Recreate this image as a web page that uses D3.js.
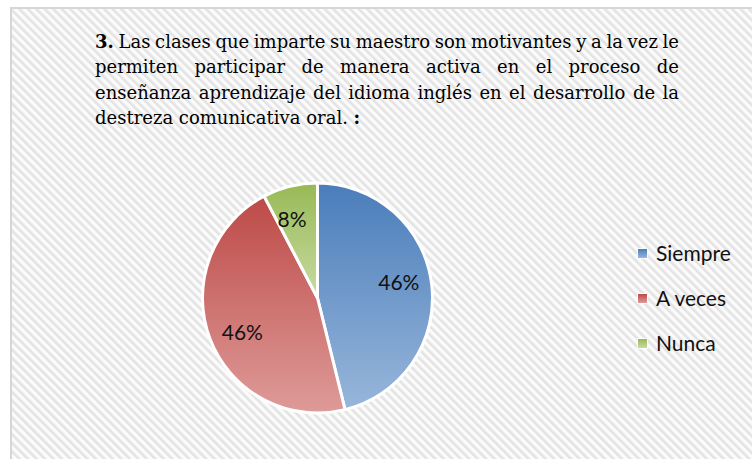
<!DOCTYPE html>
<html>
<head>
<meta charset="utf-8">
<script src="https://cdn.jsdelivr.net/npm/d3@7"></script>
<style>
  html, body { margin: 0; padding: 0; background: #ffffff; }
  svg { display: block; }
</style>
</head>
<body>
<svg id="chart" width="752" height="459"></svg>
<script>
// ---- data ----
const categories = ["Siempre", "A veces", "Nunca"];
const values = [6, 6, 1];
const titleLines = [
  "3. Las clases que imparte su maestro son motivantes y a la vez le",
  "permiten participar de manera activa en el proceso de",
  "enseñanza aprendizaje del idioma inglés en el desarrollo de la",
  "destreza comunicativa oral. :"
];
const boldWords = ["3.", ":"];

// ---- styles ----
const colors = [
  { top: "#4a7dbb", bottom: "#98b6da" },
  { top: "#bd4a47", bottom: "#de9b99" },
  { top: "#98b955", bottom: "#c8dba4" }
];

const svg = d3.select("#chart");
const W = 752, H = 459;

const defs = svg.append("defs");
const pat = defs.append("pattern")
  .attr("id", "stripes")
  .attr("patternUnits", "userSpaceOnUse")
  .attr("width", 6).attr("height", 6)
  .attr("patternTransform", "rotate(-45)");
pat.append("rect").attr("width", 6).attr("height", 6).attr("fill", "#fbfbfb");
pat.append("rect").attr("x", 0).attr("width", 2.6).attr("height", 6).attr("fill", "#e3e3e3");

colors.forEach((c, i) => {
  const g = defs.append("linearGradient")
    .attr("id", "grad" + i)
    .attr("x1", 0).attr("y1", 0).attr("x2", 0).attr("y2", 1);
  g.append("stop").attr("offset", "0%").attr("stop-color", c.top);
  g.append("stop").attr("offset", "100%").attr("stop-color", c.bottom);
});

// chart area background + border
svg.append("rect")
  .attr("x", 11).attr("y", 8)
  .attr("width", W + 20).attr("height", H + 20)
  .attr("fill", "url(#stripes)")
  .attr("stroke", "#d6d6d6").attr("stroke-width", 2);

// ---- title (justified) ----
const titleFont = "'DejaVu Serif', 'Liberation Serif', serif";
const blockLeft = 95, blockRight = 679;
const lineY0 = 48, lineGap = 25.3;
const titleG = svg.append("g");
let titleSize = 18;

function measure(word, bold, size) {
  const t = titleG.append("text")
    .attr("font-family", titleFont).attr("font-size", size)
    .attr("font-weight", bold ? "bold" : "normal")
    .text(word);
  const w = t.node().getComputedTextLength();
  t.remove();
  return w;
}
// shrink the font until the longest line fits with a small natural gap
function lineWidth(line, size) {
  const words = line.split(" ");
  return d3.sum(words, w => measure(w, boldWords.includes(w), size)) +
    (words.length - 1) * 0.22 * size;
}
while (d3.max(titleLines, l => lineWidth(l, titleSize)) > blockRight - blockLeft && titleSize > 12) {
  titleSize -= 0.25;
}
const spaceW = measure("a a", false, titleSize) - 2 * measure("a", false, titleSize);

titleLines.forEach((line, li) => {
  const words = line.split(" ");
  const widths = words.map(w => measure(w, boldWords.includes(w), titleSize));
  const total = d3.sum(widths);
  const last = li === titleLines.length - 1;
  const gap = last ? spaceW : (blockRight - blockLeft - total) / (words.length - 1);
  let x = blockLeft;
  words.forEach((w, wi) => {
    titleG.append("text")
      .attr("x", x).attr("y", lineY0 + li * lineGap)
      .attr("font-family", titleFont).attr("font-size", titleSize)
      .attr("font-weight", boldWords.includes(w) ? "bold" : "normal")
      .attr("fill", "#000")
      .text(w);
    x += widths[wi] + gap;
  });
});

// ---- pie ----
const cx = 317.5, cy = 298, R = 115;
const pie = d3.pie().sort(null).value(d => d)(values);
const arc = d3.arc().innerRadius(0).outerRadius(R);
const labelR = R * 0.72, labelShift = -4 * Math.PI / 180;
const total = d3.sum(values);
const fmt = d3.format(".0%");

const pieG = svg.append("g").attr("transform", `translate(${cx},${cy})`);
pieG.selectAll("path.slice")
  .data(pie)
  .join("path")
  .attr("class", "slice")
  .attr("d", arc)
  .attr("fill", (d, i) => `url(#grad${i})`)
  .attr("stroke", "#ffffff")
  .attr("stroke-width", 3)
  .attr("stroke-linejoin", "round");

const labelFont = "Lato, 'Open Sans', sans-serif";
pieG.selectAll("text.lbl")
  .data(pie)
  .join("text")
  .attr("class", "lbl")
  .attr("transform", d => {
    const a = (d.startAngle + d.endAngle) / 2 + labelShift;
    return `translate(${labelR * Math.sin(a)},${-labelR * Math.cos(a)})`;
  })
  .attr("text-anchor", "middle")
  .attr("dy", "0.36em")
  .attr("font-family", labelFont)
  .attr("font-size", 21)
  .attr("fill", "#111")
  .text(d => fmt(d.data / total));

// ---- legend ----
const legY = d3.scalePoint().domain(categories).range([253.5, 343.5]);
const legG = svg.append("g");
const items = legG.selectAll("g.item")
  .data(categories)
  .join("g")
  .attr("class", "item")
  .attr("transform", d => `translate(638,${legY(d)})`);
items.append("rect")
  .attr("x", -1).attr("y", -5.5)
  .attr("width", 11).attr("height", 11)
  .attr("fill", "#ffffff").attr("opacity", 0.8);
items.append("rect")
  .attr("x", 0).attr("y", -4.5)
  .attr("width", 9).attr("height", 9)
  .attr("fill", (d, i) => `url(#grad${i})`);
items.append("text")
  .attr("x", 18).attr("y", 0)
  .attr("dy", "0.36em")
  .attr("font-family", labelFont)
  .attr("font-size", 21)
  .attr("fill", "#111")
  .text(d => d);
</script>
</body>
</html>
